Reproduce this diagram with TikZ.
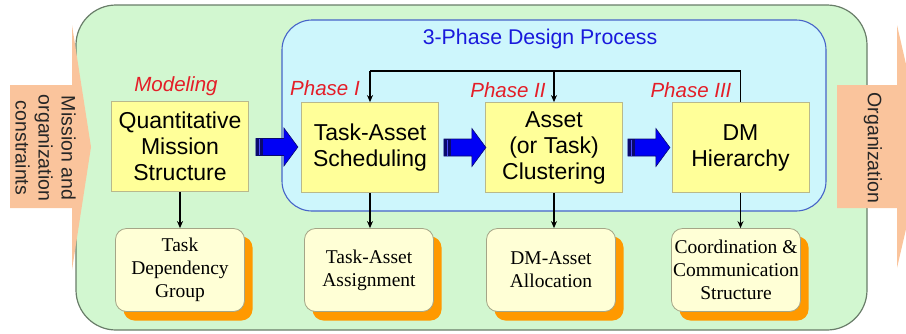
\documentclass[tikz,border=0pt]{standalone}
\usepackage{fontspec}
\setmainfont{Liberation Serif}
\setsansfont{Liberation Sans}
\usetikzlibrary{arrows.meta,calc}

\definecolor{panelgreen}{RGB}{210,247,208}
\definecolor{panelgreenline}{RGB}{105,125,105}
\definecolor{phasecyan}{RGB}{205,246,252}
\definecolor{phaseline}{RGB}{70,100,200}
\definecolor{boxyellow}{RGB}{255,255,153}
\definecolor{boxyellowline}{RGB}{185,185,140}
\definecolor{cream}{RGB}{255,255,214}
\definecolor{creamline}{RGB}{165,165,135}
\definecolor{shadoworange}{RGB}{255,153,0}
\definecolor{peach}{RGB}{250,196,156}
\definecolor{labelred}{RGB}{228,30,40}
\definecolor{titleblue}{RGB}{25,25,220}
\definecolor{arrowblue}{RGB}{0,0,245}
\definecolor{arrownavy}{RGB}{10,10,110}

\tikzset{
  x=1pt, y=-1pt,
  stagebox/.style={draw=boxyellowline, line width=0.8pt, fill=boxyellow,
    minimum width=137pt, minimum height=90pt, align=center,
    font=\sffamily\fontsize{23}{26}\selectfont, inner sep=0pt},
  resultbox/.style={draw=creamline, line width=0.8pt, fill=cream,
    rounded corners=11pt, minimum width=129pt, minimum height=83pt,
    align=center, font=\fontsize{19.5}{23}\selectfont, inner sep=0pt},
  phaselabel/.style={text=labelred, font=\sffamily\itshape\fontsize{20.5}{24}\selectfont,
    inner sep=0pt},
  sidelabel/.style={rotate=-90, align=center, text=black!85,
    font=\sffamily\fontsize{19.5}{23}\selectfont, inner sep=0pt},
  flow/.style={line width=1.3pt, -{Stealth[length=7pt,width=6pt]}},
  feedback/.style={line width=1.3pt},
  pics/fatarrow/.style={code={
    \fill[arrowblue, draw=arrownavy, line width=0.6pt]
      (0,-8.5) -- (28,-8.5) -- (28,-19) -- (42,0) -- (28,19) -- (28,8.5) -- (0,8.5) -- cycle;
    \fill[arrownavy] (0,-8.5) rectangle (7,8.5);
    \draw[arrowblue!70, line width=0.8pt] (3,-8) -- (3,8);
  }}
}

\begin{document}
\begin{tikzpicture}
\useasboundingbox (0,0) rectangle (906,333);

% outer panel
\fill[panelgreen, rounded corners=40pt] (76,5) rectangle (867,330);
\draw[panelgreenline, line width=1.2pt, rounded corners=40pt] (76,5) rectangle (867,330);

% input and output arrows
\fill[peach] (10,85) -- (72,85) -- (72,25) -- (91,147) -- (72,270) -- (72,208) -- (10,208) -- cycle;
\fill[peach] (837,85) -- (897,85) -- (897,25) -- (925,147) -- (897,268) -- (897,208) -- (837,208) -- cycle;
\node[sidelabel] (input) at (45.5,148) {Mission and\\organization\\constraints};
\node[sidelabel] (output) at (873,148) {Organization};

% design process panel
\draw[phaseline, fill=phasecyan, line width=1.1pt, rounded corners=30pt] (282,20) rectangle (826,211);
\node[text=titleblue, font=\sffamily\fontsize{21.3}{24}\selectfont, inner sep=0pt] (title) at (540,39) {3-Phase Design Process};

% stage boxes
\node[stagebox] (qms) at (180,146.5) {Quantitative\\Mission\\Structure};
\node[stagebox] (tas) at (370,147.5) {Task-Asset\\Scheduling};
\node[stagebox] (clu) at (554,147.5) {Asset\\(or Task)\\Clustering};
\node[stagebox] (dmh) at (740.5,147.5) {DM\\Hierarchy};

% stage labels
\node[phaselabel] (lmod) at (176,86) {Modeling};
\node[phaselabel] (lp1) at (325,88) {Phase I};
\node[phaselabel] (lp2) at (508,90) {Phase II};
\node[phaselabel] (lp3) at (691,90) {Phase III};

% block arrows between stages
\pic at ($(qms.east)+(7,0.5)$) {fatarrow};
\pic at ($(tas.east)+(5,0)$) {fatarrow};
\pic at ($(clu.east)+(5,0)$) {fatarrow};

% feedback loop from the hierarchy back to phases I and II
\coordinate (loopR) at ($(dmh.north)+(0,-31)$);
\coordinate (loopL) at (tas.north |- loopR);
\coordinate (loopM) at (clu.north |- loopR);
\draw[feedback] (dmh.north) -- (loopR) -- (loopL);
\draw[flow] (loopL) -- (tas.north);
\draw[flow] (loopM) -- (clu.north);

% result boxes with drop shadows
\foreach \n/\x/\t in {tdg/180/{Task\\Dependency\\Group},
                      taa/369/{Task-Asset\\Assignment},
                      dma/551/{DM-Asset\\Allocation},
                      ccs/736/{Coordination \&\\Communication\\Structure}}{
  \fill[shadoworange, rounded corners=11pt] (\x-56.5,236.5) rectangle (\x+72.5,320.5);
  \node[resultbox] (\n) at (\x,270) {\t};
}

% stage outputs
\draw[flow] (qms.south) -- (qms.south |- tdg.north);
\draw[flow] (tas.south) -- (tas.south |- taa.north);
\draw[flow] (clu.south) -- (clu.south |- dma.north);
\draw[flow] (dmh.south) -- (dmh.south |- ccs.north);
\end{tikzpicture}
\end{document}
